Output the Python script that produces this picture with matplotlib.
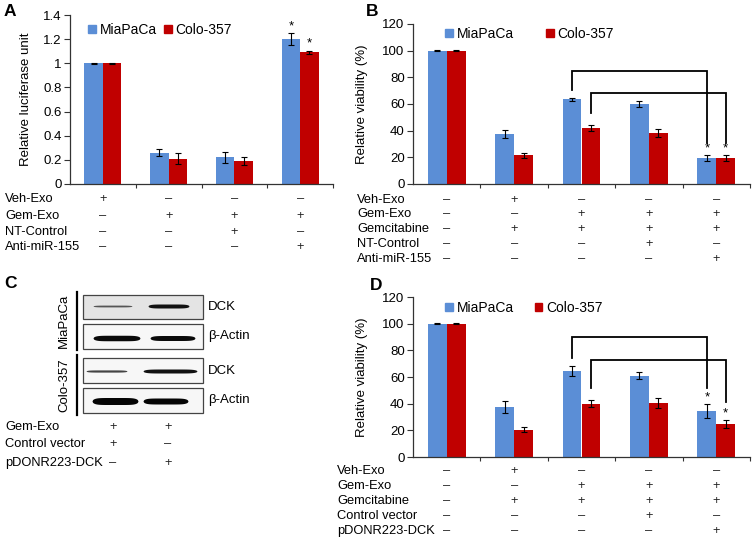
import numpy as np
import matplotlib
matplotlib.use("Agg")
import matplotlib.pyplot as plt
from matplotlib.patches import Rectangle, Patch

plt.rcParams['font.family'] = ['Liberation Sans', 'DejaVu Sans']

# ---------------- data ----------------
series = ["MiaPaCa", "Colo-357"]
BLUE = "#5b8ed6"
RED = "#c00000"

# Panel A
A_mia = [1.0, 0.26, 0.22, 1.20]
A_mia_err = [0.004, 0.03, 0.045, 0.05]
A_colo = [1.0, 0.21, 0.19, 1.09]
A_colo_err = [0.004, 0.045, 0.03, 0.015]
A_rows = ["Veh-Exo", "Gem-Exo", "NT-Control", "Anti-miR-155"]
A_signs = [["+", "–", "–", "–"],
           ["–", "+", "+", "+"],
           ["–", "–", "+", "–"],
           ["–", "–", "–", "+"]]
A_yticks = [0, 0.2, 0.4, 0.6, 0.8, 1.0, 1.2, 1.4]
A_yticklabels = ["0", "0.2", "0.4", "0.6", "0.8", "1", "1.2", "1.4"]
A_stars = [(3, 0), (3, 1)]  # (group, series)

# Panel B
B_mia = [100, 37.5, 63.5, 60, 19.5]
B_mia_err = [0.3, 3, 1.2, 2, 2]
B_colo = [100, 21.5, 42, 38.5, 19.5]
B_colo_err = [0.3, 2, 2, 3, 2]
B_rows = ["Veh-Exo", "Gem-Exo", "Gemcitabine", "NT-Control", "Anti-miR-155"]
B_signs = [["–", "+", "–", "–", "–"],
           ["–", "–", "+", "+", "+"],
           ["–", "+", "+", "+", "+"],
           ["–", "–", "–", "+", "–"],
           ["–", "–", "–", "–", "+"]]
B_stars = [(4, 0), (4, 1)]
# brackets: (series, from group, to group, bar height, left end, right end)
B_brackets = [(0, 2, 4, 85, 70.5, 30.5), (1, 2, 4, 68, 53, 30.5)]

# Panel D
D_mia = [100, 37.5, 64.5, 61, 34.5]
D_mia_err = [0.3, 4.5, 4, 2.5, 5]
D_colo = [100, 20.5, 40, 40.5, 25]
D_colo_err = [0.3, 2, 2.5, 3.5, 3]
D_rows = ["Veh-Exo", "Gem-Exo", "Gemcitabine", "Control vector", "pDONR223-DCK"]
D_signs = [["–", "+", "–", "–", "–"],
           ["–", "–", "+", "+", "+"],
           ["–", "+", "+", "+", "+"],
           ["–", "–", "–", "+", "–"],
           ["–", "–", "–", "–", "+"]]
D_stars = [(4, 0), (4, 1)]
D_brackets = [(0, 2, 4, 90, 74, 52), (1, 2, 4, 73, 52, 41)]

V_yticks = [0, 20, 40, 60, 80, 100, 120]

# Panel C (western blot)
C_rows = ["Gem-Exo", "Control vector", "pDONR223-DCK"]
C_signs = [["+", "+"], ["+", "–"], ["–", "+"]]
C_blots = ["DCK", "β-Actin", "DCK", "β-Actin"]
C_cells = ["MiaPaCa", "Colo-357"]

# ---------------- figure ----------------
W, H = 753, 539
fig = plt.figure(figsize=(W / 100, H / 100), dpi=100)
fig.patch.set_facecolor("white")

FS = 9.5     # ticks / axis labels
LFS = 10     # legend
TFS = 9.3    # table


def ax_px(l, t, r, b):
    return fig.add_axes([l / W, 1 - b / H, (r - l) / W, (b - t) / H])


def bar_panel(ax, mia, mia_err, colo, colo_err, ylim, yticks, yticklabels,
              ylabel, box, legend_pos, colspace):
    l, t, r, b = box
    n = len(mia)
    x = np.arange(n)
    bw = 0.28
    ek = dict(ecolor="black", elinewidth=0.8, capsize=2.3, capthick=0.8)
    ax.bar(x - bw / 2, mia, bw, yerr=mia_err, color=BLUE, error_kw=ek,
           label=series[0], zorder=2)
    ax.bar(x + bw / 2, colo, bw, yerr=colo_err, color=RED, error_kw=ek,
           label=series[1], zorder=2)
    ax.set_xlim(-0.5, n - 0.5)
    ax.set_ylim(*ylim)
    ax.set_yticks(yticks)
    ax.set_yticklabels(yticklabels, fontsize=FS)
    ax.set_xticks(np.arange(n) + 0.5)
    ax.set_xticklabels([])
    ax.tick_params(axis="x", direction="out", length=3, width=0.8, color="#333333")
    ax.tick_params(axis="y", direction="out", length=4, width=0.8, color="#333333", pad=2)
    for s in ["top", "right"]:
        ax.spines[s].set_visible(False)
    for s in ["left", "bottom"]:
        ax.spines[s].set_color("#333333")
        ax.spines[s].set_linewidth(0.9)
    ax.set_ylabel(ylabel, fontsize=FS)
    hs = [Patch(color=BLUE), Patch(color=RED)]
    lx = (legend_pos[0] - l) / (r - l)
    ly = (b - legend_pos[1]) / (b - t)
    ax.legend(hs, series, loc="center left", bbox_to_anchor=(lx, ly), ncol=2,
              frameon=False, fontsize=LFS, handlelength=0.55, handleheight=0.55,
              handletextpad=0.3, columnspacing=colspace, borderpad=0,
              borderaxespad=0)
    return x, bw


def table(ax, box, rows, signs, ys, label_x):
    l, t, r, b = box
    trans = ax.get_xaxis_transform()
    for row, sg, yp in zip(rows, signs, ys):
        yf = (b - yp) / (b - t)
        fig.text(label_x / W, 1 - yp / H, row, fontsize=TFS, ha="left", va="center")
        for i, s in enumerate(sg):
            ax.text(i, yf, s, transform=trans, fontsize=TFS, ha="center",
                    va="center", color="#222222")


def stars(ax, stars_list, mia, mia_err, colo, colo_err, bw):
    for g, s in stars_list:
        if s == 0:
            xx, top = g - bw / 2, mia[g] + mia_err[g]
        else:
            xx, top = g + bw / 2, colo[g] + colo_err[g]
        ax.annotate("*", xy=(xx, top), xytext=(0, 0.5), textcoords="offset points",
                    ha="center", va="bottom", fontsize=9.5)


def brackets(ax, br, bw):
    for s, g1, g2, yh, y1, y2 in br:
        off = -bw / 2 if s == 0 else bw / 2
        x1, x2 = g1 + off, g2 + off
        ax.plot([x1, x1, x2, x2], [y1, yh, yh, y2], color="black", lw=1.3,
                zorder=3, solid_joinstyle="miter")


# Panel A
boxA = (70, 15, 333, 184)
axA = ax_px(*boxA)
x, bw = bar_panel(axA, A_mia, A_mia_err, A_colo, A_colo_err, (0, 1.4), A_yticks,
                  A_yticklabels, "Relative luciferase unit", boxA, (88, 30), 0.5)
axA.yaxis.set_label_coords((32 - 70) / (333 - 70), 0.5)
stars(axA, A_stars, A_mia, A_mia_err, A_colo, A_colo_err, bw)
table(axA, boxA, A_rows, A_signs, [199, 216, 232, 247], 5)

# Panel B
boxB = (413, 24, 750, 184)
axB = ax_px(*boxB)
x, bw = bar_panel(axB, B_mia, B_mia_err, B_colo, B_colo_err, (0, 120), V_yticks,
                  [str(v) for v in V_yticks], "Relative viability (%)", boxB,
                  (445, 34), 2.3)
axB.yaxis.set_label_coords((368 - 413) / (750 - 413), 0.5)
stars(axB, B_stars, B_mia, B_mia_err, B_colo, B_colo_err, bw)
brackets(axB, B_brackets, bw)
table(axB, boxB, B_rows, B_signs, [200, 214, 229, 244, 259], 357)

# Panel D
boxD = (413, 297, 750, 457)
axD = ax_px(*boxD)
x, bw = bar_panel(axD, D_mia, D_mia_err, D_colo, D_colo_err, (0, 120), V_yticks,
                  [str(v) for v in V_yticks], "Relative viability (%)", boxD,
                  (445, 308), 1.5)
axD.yaxis.set_label_coords((368 - 413) / (750 - 413), 0.5)
stars(axD, D_stars, D_mia, D_mia_err, D_colo, D_colo_err, bw)
brackets(axD, D_brackets, bw)
table(axD, boxD, D_rows, D_signs, [471, 486, 501, 516, 531], 337)

# Panel C : western blot drawing in pixel coordinates
axC = fig.add_axes([0, 0, 380 / W, 269 / H])
axC.set_xlim(0, 380)
axC.set_ylim(539, 270)
axC.axis("off")

boxes = [(295, 319, "#e4e4e4"), (324, 349, "#f7f7f7"), (358, 383, "#f7f7f7"), (388, 413, "#f7f7f7")]
for (tp, bt, fc), lab in zip(boxes, C_blots):
    axC.add_patch(Rectangle((83, tp), 120, bt - tp, facecolor=fc, edgecolor="#444444", lw=0.9))
    axC.text(208, (tp + bt) / 2, lab, fontsize=FS, ha="left", va="center")

# bands: (x0, x1, yc, thickness, color)
bands = [(93, 132, 306, 1.8, "#555555"), (148, 189, 306, 4.0, "#111111"),
         (93, 140, 338, 5.5, "#0a0a0a"), (150, 195, 338, 5.0, "#0a0a0a"),
         (86, 127, 371, 2.2, "#444444"), (143, 197, 371, 4.0, "#111111"),
         (92, 138, 401, 7.0, "#050505"), (143, 188, 401, 6.0, "#050505")]
for x0, x1, yc, th, col in bands:
    xs = np.linspace(x0, x1, 80)
    u = (xs - (x0 + x1) / 2) / ((x1 - x0) / 2)
    half = th / 2 * np.sqrt(np.clip(1 - u ** 6, 0, 1))
    axC.fill_between(xs, yc - half, yc + half, color=col, lw=0)

axC.plot([77, 77], [292, 350], color="black", lw=1.6)
axC.plot([77, 77], [355, 415], color="black", lw=1.6)
axC.text(64, 321, C_cells[0], rotation=90, fontsize=FS, ha="center", va="center")
axC.text(64, 385, C_cells[1], rotation=90, fontsize=FS, ha="center", va="center")

for row, sg, yp in zip(C_rows, C_signs, [427, 444, 463]):
    axC.text(5, yp, row, fontsize=TFS, ha="left", va="center")
    for xp, s in zip([113, 168], sg):
        axC.text(xp, yp, s, fontsize=TFS, ha="center", va="center", color="#222222")

# panel letters
for lab, xp, yp in [("A", 4, 12), ("B", 366, 12), ("C", 4, 284), ("D", 370, 286)]:
    fig.text(xp / W, 1 - yp / H, lab, fontsize=12.5, fontweight="bold", ha="left", va="center")

fig.savefig("out.png", dpi=100, facecolor="white")
